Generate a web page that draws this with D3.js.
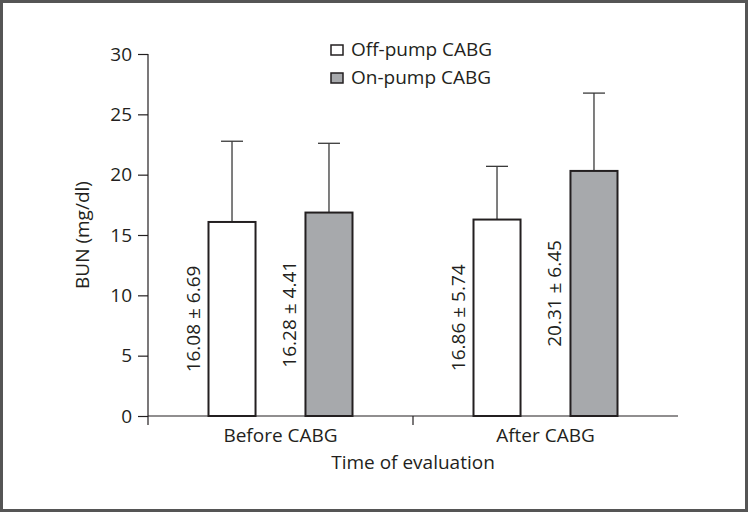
<!DOCTYPE html>
<html>
<head>
<meta charset="utf-8">
<script src="https://cdn.jsdelivr.net/npm/d3@7"></script>
<style>
  html, body { margin: 0; padding: 0; background: #fff; }
  svg { display: block; }
  text { font-family: "Open Sans", "Noto Sans", sans-serif; fill: #231f20; }
</style>
</head>
<body>
<script>
// ---- data ----
const categories = ["Before CABG", "After CABG"];
const seriesNames = ["Off-pump CABG", "On-pump CABG"];
const offPumpMean = [16.08, 16.28];
const offPumpSD = [6.69, 4.41];
const onPumpMean = [16.86, 20.31];
const onPumpSD = [5.74, 6.45];
// value labels as printed in the figure (per bar)
const offPumpLabels = ["16.08 ± 6.69", "16.86 ± 5.74"];
const onPumpLabels = ["16.28 ± 4.41", "20.31 ± 6.45"];
const yTicks = [0, 5, 10, 15, 20, 25, 30];
const yTitle = "BUN (mg/dl)";
const xTitle = "Time of evaluation";

(function () {
const W = 748, H = 512;
const FS = "19px";
const svg = d3.select("body").append("svg").attr("width", W).attr("height", H);

// frame
svg.append("rect").attr("x", 1.5).attr("y", 1.5).attr("width", W - 3).attr("height", H - 3)
  .attr("fill", "#fff").attr("stroke", "#555555").attr("stroke-width", 3);

const mLeft = 148, mRight = 678, mTop = 54, mBottom = 416;
const y = d3.scaleLinear().domain([0, 30]).range([mBottom, mTop]);
const x = d3.scaleBand().domain(categories).range([mLeft, mRight]).padding(0);
const xs = d3.scaleBand().domain(seriesNames).range([-72, 72]).paddingInner(0.515).paddingOuter(0);

const axisColor = "#231f20";

// y axis
const yAxis = svg.append("g").attr("transform", `translate(${mLeft},0)`)
  .call(d3.axisLeft(y).tickValues(yTicks).tickSize(10).tickPadding(6).tickFormat(d3.format("d")));
yAxis.select(".domain").remove();
yAxis.selectAll(".tick line").attr("stroke", axisColor).attr("stroke-width", 1.2);
yAxis.selectAll(".tick text").style("font-size", FS).style("font-family", "'Open Sans', sans-serif").attr("fill", axisColor);
svg.append("line").attr("x1", mLeft).attr("x2", mLeft).attr("y1", mTop).attr("y2", mBottom + 9)
  .attr("stroke", axisColor).attr("stroke-width", 1.2);

// x axis
svg.append("line").attr("x1", mLeft).attr("x2", mRight).attr("y1", mBottom).attr("y2", mBottom)
  .attr("stroke", axisColor).attr("stroke-width", 1.2);
categories.slice(1).forEach(c => {
  svg.append("line").attr("x1", x(c)).attr("x2", x(c)).attr("y1", mBottom).attr("y2", mBottom + 9)
    .attr("stroke", axisColor).attr("stroke-width", 1.2);
});
svg.selectAll(".xlab").data(categories).enter().append("text")
  .attr("x", d => x(d) + x.bandwidth() / 2).attr("y", mBottom + 26)
  .attr("text-anchor", "middle").style("font-size", FS).text(d => d);

svg.append("text").attr("x", x(categories[0]) + x.bandwidth()).attr("y", mBottom + 53)
  .attr("text-anchor", "middle").style("font-size", FS).text(xTitle);

svg.append("text").attr("transform", `translate(89,${y(15)}) rotate(-90)`)
  .attr("text-anchor", "middle").style("font-size", FS).text(yTitle);

// bars
const series = [
  { name: seriesNames[0], mean: offPumpMean, sd: offPumpSD, labels: offPumpLabels, fill: "#ffffff" },
  { name: seriesNames[1], mean: onPumpMean, sd: onPumpSD, labels: onPumpLabels, fill: "#a7a9ac" }
];

series.forEach(s => {
  categories.forEach((c, i) => {
    const cx = x(c) + x.bandwidth() / 2;
    const bx = cx + xs(s.name);
    const bw = xs.bandwidth();
    const mid = bx + bw / 2;
    svg.append("line").attr("x1", mid).attr("x2", mid)
      .attr("y1", y(s.mean[i])).attr("y2", y(s.mean[i] + s.sd[i]))
      .attr("stroke", "#3a3a3a").attr("stroke-width", 1.3);
    svg.append("line").attr("x1", mid - 11).attr("x2", mid + 11)
      .attr("y1", y(s.mean[i] + s.sd[i])).attr("y2", y(s.mean[i] + s.sd[i]))
      .attr("stroke", "#3a3a3a").attr("stroke-width", 1.3);
    svg.append("rect").attr("x", bx).attr("y", y(s.mean[i]))
      .attr("width", bw).attr("height", y(0) - y(s.mean[i]))
      .attr("fill", s.fill).attr("stroke", "#231f20").attr("stroke-width", 2);
    svg.append("text")
      .attr("transform", `translate(${bx - 9},${y(s.mean[i] / 2)}) rotate(-90)`)
      .attr("text-anchor", "middle").style("font-size", FS).text(s.labels[i]);
  });
});

// legend
series.forEach((s, i) => {
  const ly = 45 + i * 28;
  svg.append("rect").attr("x", 331).attr("y", ly).attr("width", 12).attr("height", 10)
    .attr("fill", s.fill).attr("stroke", "#231f20").attr("stroke-width", 1.5);
  svg.append("text").attr("x", 351).attr("y", ly + 11).style("font-size", FS).text(s.name);
});
})();
</script>
</body>
</html>
